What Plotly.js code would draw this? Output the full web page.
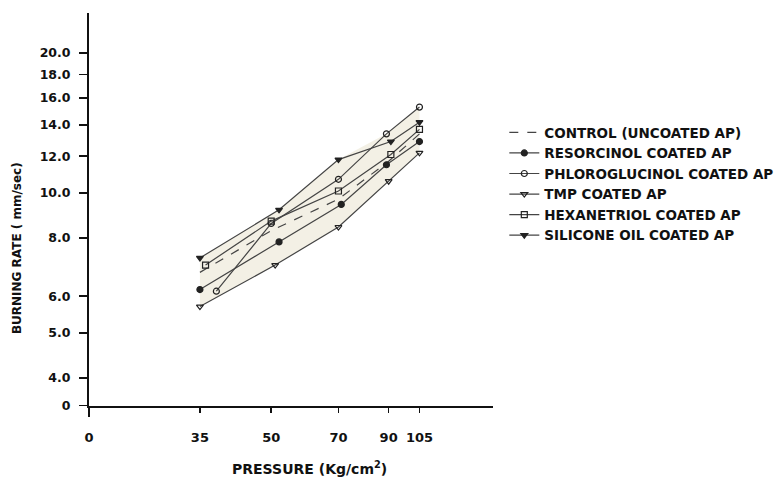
<!DOCTYPE html>
<html>
<head>
<meta charset="utf-8">
<script src="https://cdn.plot.ly/plotly-3.0.1.min.js"></script>
<style>
html,body{margin:0;padding:0;background:#fff;}
#chart{width:778px;height:481px;}
</style>
</head>
<body>
<div id="chart"></div>
<script>
// ---- data (pressure in Kg/cm2, burning rate in mm/sec) ----
const seriesNames = [
  "CONTROL (UNCOATED AP)",
  "RESORCINOL COATED AP",
  "PHLOROGLUCINOL COATED AP",
  "TMP COATED AP",
  "HEXANETRIOL COATED AP",
  "SILICONE OIL COATED AP"
];
const controlP = [35, 50, 70, 90, 105];
const controlR = [6.75, 8.3, 9.7, 11.7, 13.4];
const resorcinolP = [35, 52, 71, 89, 105];
const resorcinolR = [6.2, 7.85, 9.45, 11.5, 12.9];
const phloroP = [38, 50, 70, 89, 105];
const phloroR = [6.15, 8.6, 10.7, 13.4, 15.3];
const tmpP = [35, 51, 70, 90, 105];
const tmpR = [5.7, 7.0, 8.45, 10.6, 12.2];
const hexP = [36, 50, 70, 91, 105];
const hexR = [7.0, 8.7, 10.1, 12.1, 13.7];
const siliconeP = [35, 52, 70, 91, 105];
const siliconeR = [7.25, 9.2, 11.8, 12.9, 14.2];

const xTickVals = [20.1, 35, 50, 70, 90, 105];
const xTickText = ["0", "35", "50", "70", "90", "105"];
const yTickVals = [3.49, 4, 5, 6, 8, 10, 12, 14, 16, 18, 20];
const yTickText = ["0", "4.0", "5.0", "6.0", "8.0", "10.0", "12.0", "14.0", "16.0", "18.0", "20.0"];

const LINE = "#444";
const FONT = "DejaVu Sans, Verdana, sans-serif";

// shaded envelope built from the series
const envX = siliconeP.slice(0, 3).concat(phloroP.slice(3)).concat(tmpP.slice().reverse());
const envY = siliconeR.slice(0, 3).concat(phloroR.slice(3)).concat(tmpR.slice().reverse());

function series(name, x, y, symbol, dash) {
  return {
    type: "scatter", mode: dash ? "lines" : "lines+markers", name: name,
    x: x, y: y,
    line: {color: LINE, width: 1.2, dash: dash || "solid"},
    marker: {symbol: symbol, size: 6, color: "#222", line: {color: "#222", width: 1.2}}
  };
}

const data = [
  {type: "scatter", mode: "lines", x: envX, y: envY, fill: "toself",
   fillcolor: "#f3f0e5", line: {width: 0}, showlegend: false, hoverinfo: "skip"},
  series(seriesNames[0], controlP, controlR, "circle", "dash"),
  series(seriesNames[1], resorcinolP, resorcinolR, "circle"),
  series(seriesNames[2], phloroP, phloroR, "circle-open"),
  series(seriesNames[3], tmpP, tmpR, "triangle-down-open"),
  series(seriesNames[4], hexP, hexR, "square-open"),
  series(seriesNames[5], siliconeP, siliconeR, "triangle-down")
];

const layout = {
  width: 778, height: 481,
  margin: {l: 89, r: 285, t: 13, b: 75, autoexpand: false},
  paper_bgcolor: "#fff", plot_bgcolor: "#fff",
  font: {family: FONT, size: 12, color: "#111", weight: "bold"},
  showlegend: true,
  legend: {x: 1.028, y: 0.735, xanchor: "left", yanchor: "top",
           font: {family: FONT, size: 13.5, color: "#111", weight: "bold"},
           bgcolor: "rgba(0,0,0,0)", tracegroupgap: 0},
  xaxis: {
    type: "log", range: [1.303, 2.181], showgrid: false, zeroline: false,
    showline: true, linecolor: "#111", linewidth: 2,
    tickmode: "array", tickvals: xTickVals, ticktext: xTickText,
    ticks: "outside", ticklen: 5, tickwidth: 1.5, tickcolor: "#111",
    ticklabelstandoff: 13,
    tickfont: {family: FONT, size: 13, color: "#111", weight: "bold"}
  },
  yaxis: {
    type: "log", range: [0.542, 1.387], showgrid: false, zeroline: false,
    showline: true, linecolor: "#111", linewidth: 2,
    tickmode: "array", tickvals: yTickVals, ticktext: yTickText,
    ticks: "outside", ticklen: 8, tickwidth: 1.5, tickcolor: "#111",
    ticklabelstandoff: 6,
    tickfont: {family: FONT, size: 12.5, color: "#111", weight: "bold"}
  },
  shapes: [
    {type: "line", xref: "paper", yref: "paper", x0: 0, x1: 0, y0: 0, y1: -0.028,
     line: {color: "#111", width: 2}}
  ],
  annotations: [
    {xref: "paper", yref: "paper", x: 0.547, y: -0.158, showarrow: false,
     text: "PRESSURE (Kg/cm<sup>2</sup>)", xanchor: "center", yanchor: "middle",
     font: {family: FONT, size: 14, color: "#111", weight: "bold"}},
    {xref: "paper", yref: "paper", x: -0.178, y: 0.402, showarrow: false,
     text: "BURNING RATE ( mm/sec)", textangle: -90, xanchor: "center", yanchor: "middle",
     font: {family: FONT, size: 12, color: "#111", weight: "bold"}}
  ]
};

Plotly.newPlot("chart", data, layout, {displayModeBar: false, staticPlot: true});
</script>
</body>
</html>
